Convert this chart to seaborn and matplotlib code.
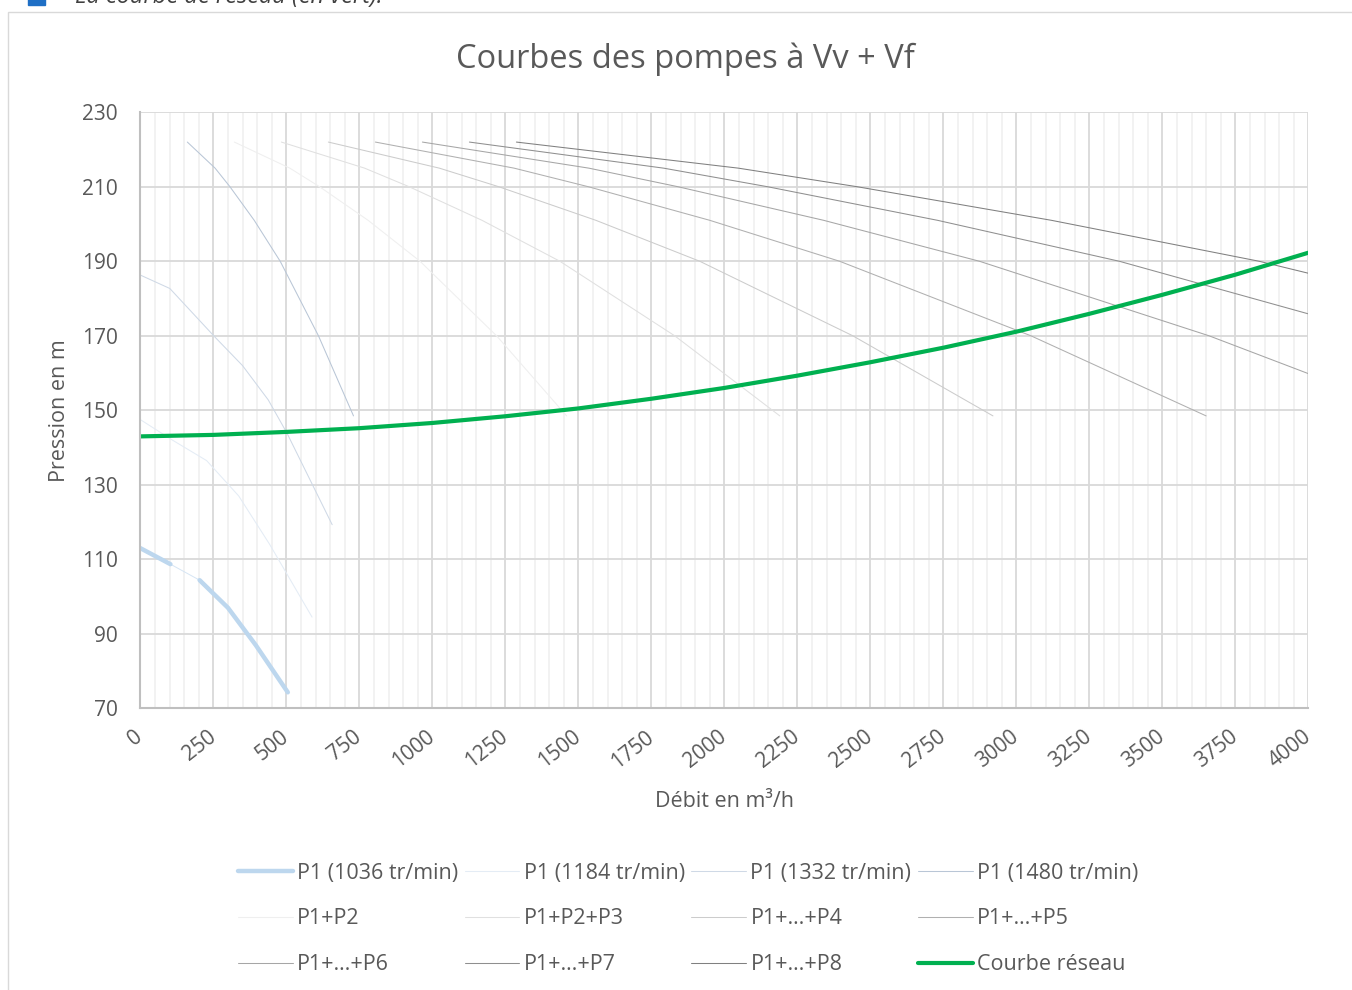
import matplotlib
matplotlib.use('Agg')
import matplotlib.pyplot as plt
import seaborn as sns
from matplotlib.patches import Rectangle
from matplotlib.ticker import MultipleLocator

# Débit (m3/h) / pression (m)
q_1036 = [0, 103, 203, 300, 395, 505]
h_1036 = [113, 108.7, 104.4, 97, 87, 74.3]

q_1184 = [0, 110, 227, 337, 443, 588]
h_1184 = [147.5, 142, 136.5, 127, 114, 94.5]

q_1332 = [0, 101, 255, 350, 438, 502, 657]
h_1332 = [186.3, 182.7, 169.7, 162, 152.8, 143.9, 119.3]

q_1480 = [161, 256, 307, 390, 479, 610, 730]
h_1480 = [222, 215, 210, 201, 190, 170, 148.5]

# pompes en parallele (meme pression, debits cumules)
q_p2 = [322, 512, 614, 780, 958, 1220, 1460]
q_p3 = [483, 768, 921, 1170, 1437, 1830, 2190]
q_p4 = [644, 1024, 1228, 1560, 1916, 2440, 2920]
q_p5 = [805, 1280, 1535, 1950, 2395, 3050, 3650]
q_p6 = [966, 1536, 1842, 2340, 2874, 3660, 4380]
q_p7 = [1127, 1792, 2149, 2730, 3353, 4270, 5110]
q_p8 = [1288, 2048, 2456, 3120, 3832, 4880, 5840]

q_reseau = [0, 250, 500, 750, 1000, 1250, 1500, 1750, 2000, 2250, 2500,
            2750, 3000, 3250, 3500, 3750, 4000]
h_reseau = [143, 143.4, 144.2, 145.2, 146.6, 148.4, 150.5, 153.1, 156.0,
            159.3, 162.9, 166.8, 171.1, 175.9, 181.0, 186.4, 192.3]

y_ticks = [70, 90, 110, 130, 150, 170, 190, 210, 230]

labels = ["P1 (1036 tr/min)", "P1 (1184 tr/min)", "P1 (1332 tr/min)", "P1 (1480 tr/min)",
          "P1+P2", "P1+P2+P3", "P1+…+P4", "P1+…+P5",
          "P1+…+P6", "P1+…+P7", "P1+…+P8", "Courbe réseau"]

sns.set_theme(style='white')
plt.rcParams['font.family'] = ['Open Sans', 'DejaVu Sans']
txt = '#595959'

fig = plt.figure(figsize=(13.52, 9.9), dpi=100)
ax = fig.add_axes([0.1038, 0.2845, 0.8639, 0.6021])

# P1 a 1036 tr/min : trait epais avec un troncon fin entre 100 et 200
sns.lineplot(x=q_1036[1:3], y=h_1036[1:3], ax=ax, color='#d6e5f4', lw=0.7, legend=False)
sns.lineplot(x=q_1036[:2], y=h_1036[:2], ax=ax, color='#bdd7ee', lw=3.2,
             label=labels[0], legend=False)
sns.lineplot(x=q_1036[2:], y=h_1036[2:], ax=ax, color='#bdd7ee', lw=3.2, legend=False)

sns.lineplot(x=q_1184, y=h_1184, ax=ax, color='#e4ecf5', lw=0.75, label=labels[1], legend=False)
sns.lineplot(x=q_1332, y=h_1332, ax=ax, color='#cfd9e6', lw=0.75, label=labels[2], legend=False)
sns.lineplot(x=q_1480, y=h_1480, ax=ax, color='#b9c6d6', lw=0.75, label=labels[3], legend=False)

multi = [q_p2, q_p3, q_p4, q_p5, q_p6, q_p7, q_p8]
grays = ['#efefef', '#e0e0e0', '#cccccc', '#b0b0b0', '#a6a6a6', '#8f8f8f', '#808080']
for q, c, lab in zip(multi, grays, labels[4:11]):
    sns.lineplot(x=q, y=h_1480, ax=ax, color=c, lw=0.75, label=lab, legend=False)

sns.lineplot(x=q_reseau, y=h_reseau, ax=ax, color='#00b050', lw=3.0,
             label=labels[11], legend=False)

ax.set_xlim(0, 4000)
ax.set_ylim(70, 230)
ax.xaxis.set_major_locator(MultipleLocator(250))
ax.xaxis.set_minor_locator(MultipleLocator(50))
ax.set_yticks(y_ticks)
ax.set_axisbelow(True)
ax.grid(which='minor', axis='x', color='#f0f0f0', lw=1.2)
ax.grid(which='major', axis='both', color='#d9d9d9', lw=1.3)
for s in ['top', 'right']:
    ax.spines[s].set_visible(False)
for s in ['left', 'bottom']:
    ax.spines[s].set_color('#bfbfbf')
    ax.spines[s].set_linewidth(1.5)

ax.tick_params(which='both', length=0, labelsize=15, labelcolor=txt)
ax.tick_params(axis='y', pad=16)
ax.tick_params(axis='x', pad=19)
for lbl in ax.get_xticklabels():
    lbl.set_rotation(38)
    lbl.set_ha('right')
    lbl.set_va('center')
    lbl.set_rotation_mode('anchor')

ax.set_xlabel('Débit en m³/h', fontsize=15.5, color=txt)
ax.xaxis.label.set_va('center')
ax.xaxis.set_label_coords(0.5, -0.156)
ax.set_ylabel('Pression en m', fontsize=15.5, color=txt)
ax.yaxis.label.set_va('center')
ax.yaxis.set_label_coords(-0.069, 0.5)

fig.text(685 / 1352, 1 - 59 / 990, 'Courbes des pompes à Vv + Vf', fontsize=23.5,
         color=txt, ha='center', va='center')

# legende sur 4 colonnes, remplie ligne par ligne
h_all, l_all = ax.get_legend_handles_labels()
by_label = dict(zip(l_all, h_all))
order = [0, 4, 8, 1, 5, 9, 2, 6, 10, 3, 7, 11]
fig.legend([by_label[labels[i]] for i in order], [labels[i] for i in order],
           loc='center', bbox_to_anchor=(688 / 1352, 1 - 919 / 990), ncol=4,
           frameon=False, fontsize=15.5, labelcolor=txt, handlelength=2.55,
           handletextpad=0.2, columnspacing=0.3, labelspacing=1.15)

# cadre du graphique et bout de texte du document au dessus
fig.patches.append(Rectangle((8 / 1352, -0.02), 1.0, 1 - 12 / 990 + 0.02,
                             transform=fig.transFigure, fill=False,
                             edgecolor='#d9d9d9', lw=1.0))
fig.patches.append(Rectangle((28 / 1352, 1 - 5 / 990), 17 / 1352, 8 / 990,
                             transform=fig.transFigure, color='#1f6fc5'))
fig.text(75 / 1352, 1 - 3 / 990, 'La courbe de réseau (en vert).', fontsize=17,
         style='italic', color='#404040', ha='left', va='baseline')

fig.savefig('out.png', dpi=100, facecolor='white')
